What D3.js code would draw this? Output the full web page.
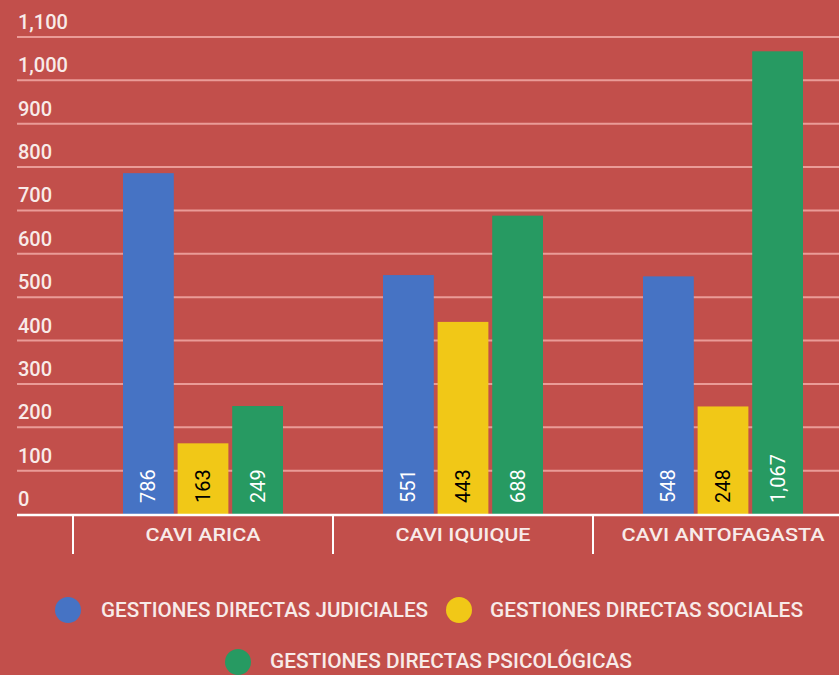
<!DOCTYPE html>
<html><head><meta charset="utf-8">
<script src="https://cdn.jsdelivr.net/npm/d3@7"></script>
<style>body{margin:0;background:#c24f4b;}svg{display:block;}</style>
</head><body>
<svg id="c" width="839" height="675"></svg>
<script>
const categories = ["CAVI ARICA", "CAVI IQUIQUE", "CAVI ANTOFAGASTA"];
const seriesNames = ["GESTIONES DIRECTAS JUDICIALES", "GESTIONES DIRECTAS SOCIALES", "GESTIONES DIRECTAS PSICOLÓGICAS"];
const judiciales = [786, 551, 548];
const sociales = [163, 443, 248];
const psicologicas = [249, 688, 1067];
const yTicks = [0, 100, 200, 300, 400, 500, 600, 700, 800, 900, 1000, 1100];

const colors = ["#4673c4", "#f1c817", "#279a62"];
const labelColors = ["#ffffff", "#000000", "#ffffff"];
const series = [judiciales, sociales, psicologicas];

const svg = d3.select("#c");
svg.append("rect").attr("width", 839).attr("height", 675).attr("fill", "#c24f4b");

const y = d3.scaleLinear().domain([0, 1100]).range([514, 37]);
const x0 = d3.scaleBand().domain(categories).range([73, 853]).paddingInner(0).paddingOuter(0);
const x1 = d3.scaleBand().domain(d3.range(3)).range([50, 210]).paddingInner(0.07);
const txt = "#f8ebe9";
const font = "Roboto, 'Noto Sans', sans-serif";

// gridlines and tick labels
yTicks.forEach(t => {
  if (t > 0) svg.append("line").attr("x1", 17).attr("x2", 839).attr("y1", y(t)).attr("y2", y(t))
    .attr("stroke", "#ea9b97").attr("stroke-width", 2);
  svg.append("text").attr("x", 18).attr("y", y(t) - 8).text(d3.format(",")(t))
    .attr("fill", txt).attr("font-family", font).attr("font-size", 20).attr("font-weight", 500);
});

// bars
categories.forEach((c, i) => {
  series.forEach((s, j) => {
    const bx = x0(c) + x1(j);
    svg.append("rect").attr("x", bx).attr("y", y(s[i])).attr("width", x1.bandwidth())
      .attr("height", y(0) - y(s[i])).attr("fill", colors[j]);
    const cx = bx + x1.bandwidth() / 2;
    svg.append("text").attr("transform", `translate(${cx + 7},${y(0) - 11}) rotate(-90)`)
      .text(d3.format(",")(s[i])).attr("fill", labelColors[j])
      .attr("font-family", font).attr("font-size", 20).attr("font-weight", 400);
  });
});

// x axis
svg.append("line").attr("x1", 17).attr("x2", 839).attr("y1", 515).attr("y2", 515)
  .attr("stroke", "#ffffff").attr("stroke-width", 2.5);
const catWidths = [115, 135, 203];
categories.forEach((c, i) => {
  svg.append("line").attr("x1", x0(c)).attr("x2", x0(c)).attr("y1", 515).attr("y2", 554)
    .attr("stroke", "#ffffff").attr("stroke-width", 2);
  svg.append("text").attr("x", x0(c) + x0.bandwidth() / 2 - catWidths[i] / 2).attr("y", 541)
    .text(c).attr("fill", txt).attr("font-family", font).attr("font-size", 19).attr("font-weight", 500)
    .attr("textLength", catWidths[i]).attr("lengthAdjust", "spacingAndGlyphs");
});

// legend
const leg = [
  {i: 0, cx: 68, cy: 610, tx: 101, ty: 617, w: 327},
  {i: 1, cx: 459, cy: 610, tx: 490, ty: 617, w: 313},
  {i: 2, cx: 238, cy: 662, tx: 270, ty: 668, w: 362}
];
leg.forEach(l => {
  svg.append("ellipse").attr("cx", l.cx).attr("cy", l.cy).attr("rx", 13).attr("ry", 13).attr("fill", colors[l.i]);
  svg.append("text").attr("x", l.tx).attr("y", l.ty).text(seriesNames[l.i])
    .attr("fill", txt).attr("font-family", font).attr("font-size", 20).attr("font-weight", 500)
    .attr("textLength", l.w).attr("lengthAdjust", "spacingAndGlyphs");
});
</script>
</body></html>
